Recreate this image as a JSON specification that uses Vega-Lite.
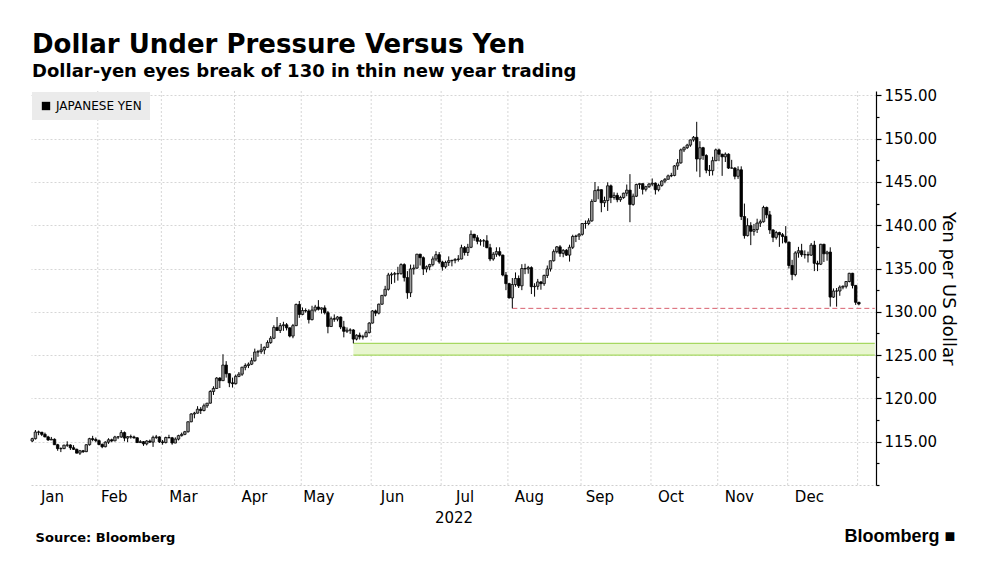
{
"$schema": "https://vega.github.io/schema/vega-lite/v6.json",
"background": "#ffffff",
"padding": {"left": 30, "top": 32, "right": 4, "bottom": 0},
"title": {"text": "Dollar Under Pressure Versus Yen", "subtitle": "Dollar-yen eyes break of 130 in thin new year trading", "anchor": "start", "frame": "group", "font": "DejaVu Sans", "fontSize": 26, "fontWeight": "bold", "color": "#000000", "subtitleFont": "DejaVu Sans", "subtitleFontSize": 18, "subtitleFontWeight": "bold", "subtitleColor": "#000000", "subtitlePadding": 5, "offset": 7, "dx": 1},
"datasets": {
"fx": [
{"d":"2022-01-03","o":115.08,"h":115.46,"l":114.95,"c":115.35},
{"d":"2022-01-04","o":115.35,"h":116.35,"l":115.25,"c":116.12},
{"d":"2022-01-05","o":116.12,"h":116.28,"l":115.75,"c":116.10},
{"d":"2022-01-06","o":116.10,"h":116.10,"l":115.65,"c":115.85},
{"d":"2022-01-07","o":115.85,"h":116.05,"l":115.52,"c":115.55},
{"d":"2022-01-10","o":115.55,"h":115.68,"l":115.10,"c":115.20},
{"d":"2022-01-11","o":115.20,"h":115.55,"l":115.20,"c":115.28},
{"d":"2022-01-12","o":115.28,"h":115.38,"l":114.65,"c":114.65},
{"d":"2022-01-13","o":114.65,"h":114.75,"l":113.95,"c":114.20},
{"d":"2022-01-14","o":114.20,"h":114.35,"l":113.80,"c":114.20},
{"d":"2022-01-17","o":114.20,"h":114.65,"l":114.15,"c":114.60},
{"d":"2022-01-18","o":114.60,"h":115.05,"l":114.40,"c":114.62},
{"d":"2022-01-19","o":114.62,"h":114.70,"l":114.05,"c":114.30},
{"d":"2022-01-20","o":114.30,"h":114.60,"l":114.05,"c":114.12},
{"d":"2022-01-21","o":114.12,"h":114.20,"l":113.65,"c":113.68},
{"d":"2022-01-24","o":113.68,"h":114.05,"l":113.47,"c":113.95},
{"d":"2022-01-25","o":113.95,"h":114.05,"l":113.70,"c":113.85},
{"d":"2022-01-26","o":113.85,"h":114.70,"l":113.80,"c":114.65},
{"d":"2022-01-27","o":114.65,"h":115.45,"l":114.55,"c":115.35},
{"d":"2022-01-28","o":115.35,"h":115.68,"l":115.05,"c":115.25},
{"d":"2022-01-31","o":115.25,"h":115.48,"l":114.95,"c":115.12},
{"d":"2022-02-01","o":115.12,"h":115.25,"l":114.58,"c":114.68},
{"d":"2022-02-02","o":114.68,"h":114.80,"l":114.25,"c":114.42},
{"d":"2022-02-03","o":114.42,"h":115.05,"l":114.35,"c":114.95},
{"d":"2022-02-04","o":114.95,"h":115.40,"l":114.75,"c":115.22},
{"d":"2022-02-07","o":115.22,"h":115.35,"l":114.95,"c":115.10},
{"d":"2022-02-08","o":115.10,"h":115.68,"l":115.05,"c":115.55},
{"d":"2022-02-09","o":115.55,"h":115.65,"l":115.30,"c":115.55},
{"d":"2022-02-10","o":115.55,"h":116.34,"l":115.45,"c":116.05},
{"d":"2022-02-11","o":116.05,"h":116.18,"l":115.05,"c":115.42},
{"d":"2022-02-14","o":115.42,"h":115.65,"l":114.95,"c":115.58},
{"d":"2022-02-15","o":115.58,"h":115.82,"l":115.35,"c":115.55},
{"d":"2022-02-16","o":115.55,"h":115.70,"l":115.35,"c":115.45},
{"d":"2022-02-17","o":115.45,"h":115.52,"l":114.85,"c":114.90},
{"d":"2022-02-18","o":114.90,"h":115.18,"l":114.85,"c":115.00},
{"d":"2022-02-21","o":115.00,"h":115.08,"l":114.52,"c":114.75},
{"d":"2022-02-22","o":114.75,"h":115.18,"l":114.58,"c":115.08},
{"d":"2022-02-23","o":115.08,"h":115.25,"l":114.85,"c":114.95},
{"d":"2022-02-24","o":114.95,"h":115.70,"l":114.40,"c":115.50},
{"d":"2022-02-25","o":115.50,"h":115.78,"l":115.32,"c":115.55},
{"d":"2022-02-28","o":115.55,"h":115.62,"l":114.85,"c":114.98},
{"d":"2022-03-01","o":114.98,"h":115.20,"l":114.65,"c":114.90},
{"d":"2022-03-02","o":114.90,"h":115.58,"l":114.80,"c":115.48},
{"d":"2022-03-03","o":115.48,"h":115.80,"l":115.40,"c":115.45},
{"d":"2022-03-04","o":115.45,"h":115.55,"l":114.65,"c":114.85},
{"d":"2022-03-07","o":114.85,"h":115.50,"l":114.82,"c":115.30},
{"d":"2022-03-08","o":115.30,"h":115.80,"l":115.15,"c":115.70},
{"d":"2022-03-09","o":115.70,"h":116.05,"l":115.60,"c":115.85},
{"d":"2022-03-10","o":115.85,"h":116.25,"l":115.75,"c":116.15},
{"d":"2022-03-11","o":116.15,"h":117.35,"l":116.05,"c":117.30},
{"d":"2022-03-14","o":117.30,"h":118.30,"l":117.25,"c":118.20},
{"d":"2022-03-15","o":118.20,"h":118.45,"l":117.70,"c":118.30},
{"d":"2022-03-16","o":118.30,"h":119.10,"l":118.25,"c":118.75},
{"d":"2022-03-17","o":118.75,"h":119.00,"l":118.20,"c":118.60},
{"d":"2022-03-18","o":118.60,"h":119.40,"l":118.50,"c":119.15},
{"d":"2022-03-21","o":119.15,"h":119.45,"l":118.90,"c":119.45},
{"d":"2022-03-22","o":119.45,"h":120.95,"l":119.40,"c":120.80},
{"d":"2022-03-23","o":120.80,"h":121.40,"l":120.40,"c":121.15},
{"d":"2022-03-24","o":121.15,"h":122.45,"l":121.10,"c":122.35},
{"d":"2022-03-25","o":122.35,"h":122.45,"l":121.20,"c":122.05},
{"d":"2022-03-28","o":122.05,"h":125.10,"l":122.00,"c":123.85},
{"d":"2022-03-29","o":123.85,"h":124.30,"l":122.40,"c":122.85},
{"d":"2022-03-30","o":122.85,"h":122.90,"l":121.30,"c":121.80},
{"d":"2022-03-31","o":121.80,"h":122.40,"l":121.25,"c":121.70},
{"d":"2022-04-01","o":121.70,"h":122.75,"l":121.60,"c":122.55},
{"d":"2022-04-04","o":122.55,"h":123.05,"l":122.45,"c":122.80},
{"d":"2022-04-05","o":122.80,"h":123.65,"l":122.60,"c":123.60},
{"d":"2022-04-06","o":123.60,"h":124.05,"l":123.25,"c":123.80},
{"d":"2022-04-07","o":123.80,"h":124.15,"l":123.50,"c":123.95},
{"d":"2022-04-08","o":123.95,"h":124.70,"l":123.85,"c":124.35},
{"d":"2022-04-11","o":124.35,"h":125.75,"l":124.25,"c":125.35},
{"d":"2022-04-12","o":125.35,"h":125.60,"l":124.80,"c":125.40},
{"d":"2022-04-13","o":125.40,"h":126.30,"l":125.15,"c":125.60},
{"d":"2022-04-14","o":125.60,"h":126.00,"l":125.10,"c":125.90},
{"d":"2022-04-15","o":125.90,"h":126.70,"l":125.85,"c":126.45},
{"d":"2022-04-18","o":126.45,"h":127.20,"l":126.30,"c":126.95},
{"d":"2022-04-19","o":126.95,"h":128.45,"l":126.85,"c":128.20},
{"d":"2022-04-20","o":128.20,"h":129.40,"l":127.80,"c":127.85},
{"d":"2022-04-21","o":127.85,"h":128.70,"l":127.55,"c":128.40},
{"d":"2022-04-22","o":128.40,"h":128.85,"l":127.80,"c":128.50},
{"d":"2022-04-25","o":128.50,"h":128.70,"l":127.85,"c":128.15},
{"d":"2022-04-26","o":128.15,"h":128.20,"l":127.05,"c":127.20},
{"d":"2022-04-27","o":127.20,"h":128.60,"l":126.95,"c":128.40},
{"d":"2022-04-28","o":128.40,"h":130.95,"l":128.35,"c":130.85},
{"d":"2022-04-29","o":130.85,"h":131.25,"l":129.30,"c":129.70},
{"d":"2022-05-02","o":129.70,"h":130.50,"l":129.60,"c":130.15},
{"d":"2022-05-03","o":130.15,"h":130.40,"l":129.90,"c":130.10},
{"d":"2022-05-04","o":130.10,"h":130.30,"l":128.65,"c":129.10},
{"d":"2022-05-05","o":129.10,"h":130.70,"l":129.00,"c":130.20},
{"d":"2022-05-06","o":130.20,"h":130.80,"l":130.00,"c":130.55},
{"d":"2022-05-09","o":130.55,"h":131.35,"l":130.15,"c":130.30},
{"d":"2022-05-10","o":130.30,"h":130.50,"l":129.80,"c":130.45},
{"d":"2022-05-11","o":130.45,"h":130.75,"l":129.70,"c":129.90},
{"d":"2022-05-12","o":129.90,"h":130.10,"l":127.52,"c":128.30},
{"d":"2022-05-13","o":128.30,"h":129.45,"l":128.30,"c":129.20},
{"d":"2022-05-16","o":129.20,"h":129.70,"l":128.85,"c":129.15},
{"d":"2022-05-17","o":129.15,"h":129.50,"l":128.90,"c":129.40},
{"d":"2022-05-18","o":129.40,"h":129.45,"l":128.00,"c":128.25},
{"d":"2022-05-19","o":128.25,"h":128.95,"l":127.05,"c":127.75},
{"d":"2022-05-20","o":127.75,"h":128.20,"l":127.55,"c":127.88},
{"d":"2022-05-23","o":127.88,"h":128.10,"l":127.45,"c":127.90},
{"d":"2022-05-24","o":127.90,"h":128.00,"l":126.36,"c":126.85},
{"d":"2022-05-25","o":126.85,"h":127.40,"l":126.70,"c":127.30},
{"d":"2022-05-26","o":127.30,"h":127.60,"l":126.80,"c":127.10},
{"d":"2022-05-27","o":127.10,"h":127.35,"l":126.80,"c":127.12},
{"d":"2022-05-30","o":127.12,"h":127.85,"l":127.05,"c":127.60},
{"d":"2022-05-31","o":127.60,"h":128.80,"l":127.50,"c":128.70},
{"d":"2022-06-01","o":128.70,"h":130.20,"l":128.65,"c":130.10},
{"d":"2022-06-02","o":130.10,"h":130.25,"l":129.50,"c":129.85},
{"d":"2022-06-03","o":129.85,"h":130.95,"l":129.70,"c":130.88},
{"d":"2022-06-06","o":130.88,"h":131.95,"l":130.80,"c":131.90},
{"d":"2022-06-07","o":131.90,"h":133.00,"l":131.75,"c":132.60},
{"d":"2022-06-08","o":132.60,"h":134.50,"l":132.45,"c":134.25},
{"d":"2022-06-09","o":134.25,"h":134.55,"l":133.20,"c":134.35},
{"d":"2022-06-10","o":134.35,"h":134.60,"l":133.35,"c":134.40},
{"d":"2022-06-13","o":134.40,"h":135.20,"l":133.60,"c":134.40},
{"d":"2022-06-14","o":134.40,"h":135.60,"l":134.30,"c":135.45},
{"d":"2022-06-15","o":135.45,"h":135.60,"l":133.50,"c":133.95},
{"d":"2022-06-16","o":133.95,"h":134.70,"l":131.50,"c":132.20},
{"d":"2022-06-17","o":132.20,"h":135.45,"l":131.70,"c":134.95},
{"d":"2022-06-20","o":134.95,"h":135.45,"l":134.30,"c":135.05},
{"d":"2022-06-21","o":135.05,"h":136.70,"l":134.95,"c":136.65},
{"d":"2022-06-22","o":136.65,"h":136.70,"l":135.35,"c":136.25},
{"d":"2022-06-23","o":136.25,"h":136.40,"l":134.25,"c":134.95},
{"d":"2022-06-24","o":134.95,"h":135.35,"l":134.55,"c":135.20},
{"d":"2022-06-27","o":135.20,"h":135.55,"l":134.80,"c":135.45},
{"d":"2022-06-28","o":135.45,"h":136.40,"l":135.25,"c":136.10},
{"d":"2022-06-29","o":136.10,"h":137.00,"l":135.85,"c":136.60},
{"d":"2022-06-30","o":136.60,"h":136.90,"l":135.55,"c":135.75},
{"d":"2022-07-01","o":135.75,"h":135.90,"l":134.75,"c":135.20},
{"d":"2022-07-04","o":135.20,"h":135.90,"l":135.00,"c":135.70},
{"d":"2022-07-05","o":135.70,"h":136.40,"l":135.30,"c":135.90},
{"d":"2022-07-06","o":135.90,"h":136.00,"l":135.25,"c":135.95},
{"d":"2022-07-07","o":135.95,"h":136.20,"l":135.60,"c":136.05},
{"d":"2022-07-08","o":136.05,"h":136.55,"l":135.80,"c":136.10},
{"d":"2022-07-11","o":136.10,"h":137.75,"l":136.05,"c":137.40},
{"d":"2022-07-12","o":137.40,"h":137.60,"l":136.50,"c":136.85},
{"d":"2022-07-13","o":136.85,"h":137.85,"l":136.45,"c":137.45},
{"d":"2022-07-14","o":137.45,"h":139.40,"l":137.35,"c":138.95},
{"d":"2022-07-15","o":138.95,"h":139.00,"l":138.20,"c":138.55},
{"d":"2022-07-18","o":138.55,"h":138.85,"l":137.80,"c":138.15},
{"d":"2022-07-19","o":138.15,"h":138.40,"l":137.65,"c":138.20},
{"d":"2022-07-20","o":138.20,"h":138.40,"l":137.50,"c":138.20},
{"d":"2022-07-21","o":138.20,"h":138.85,"l":137.35,"c":137.40},
{"d":"2022-07-22","o":137.40,"h":137.85,"l":135.85,"c":136.10},
{"d":"2022-07-25","o":136.10,"h":136.90,"l":135.90,"c":136.65},
{"d":"2022-07-26","o":136.65,"h":137.45,"l":136.35,"c":136.95},
{"d":"2022-07-27","o":136.95,"h":137.45,"l":136.40,"c":136.55},
{"d":"2022-07-28","o":136.55,"h":136.60,"l":134.10,"c":134.25},
{"d":"2022-07-29","o":134.25,"h":134.60,"l":132.50,"c":133.25},
{"d":"2022-08-01","o":133.25,"h":133.35,"l":131.55,"c":131.60},
{"d":"2022-08-02","o":131.60,"h":133.90,"l":130.40,"c":133.15},
{"d":"2022-08-03","o":133.15,"h":134.55,"l":132.90,"c":133.85},
{"d":"2022-08-04","o":133.85,"h":134.20,"l":132.75,"c":133.00},
{"d":"2022-08-05","o":133.00,"h":135.50,"l":132.50,"c":135.00},
{"d":"2022-08-08","o":135.00,"h":135.55,"l":134.35,"c":134.95},
{"d":"2022-08-09","o":134.95,"h":135.30,"l":134.40,"c":135.10},
{"d":"2022-08-10","o":135.10,"h":135.25,"l":132.05,"c":132.90},
{"d":"2022-08-11","o":132.90,"h":133.30,"l":131.75,"c":132.95},
{"d":"2022-08-12","o":132.95,"h":133.80,"l":132.55,"c":133.45},
{"d":"2022-08-15","o":133.45,"h":133.55,"l":132.55,"c":133.25},
{"d":"2022-08-16","o":133.25,"h":134.30,"l":133.00,"c":134.20},
{"d":"2022-08-17","o":134.20,"h":135.35,"l":133.90,"c":134.95},
{"d":"2022-08-18","o":134.95,"h":135.90,"l":134.65,"c":135.90},
{"d":"2022-08-19","o":135.90,"h":137.20,"l":135.80,"c":136.95},
{"d":"2022-08-22","o":136.95,"h":137.60,"l":136.75,"c":137.50},
{"d":"2022-08-23","o":137.50,"h":137.70,"l":136.35,"c":136.75},
{"d":"2022-08-24","o":136.75,"h":137.25,"l":136.30,"c":137.10},
{"d":"2022-08-25","o":137.10,"h":137.25,"l":136.45,"c":136.55},
{"d":"2022-08-26","o":136.55,"h":137.75,"l":135.80,"c":137.45},
{"d":"2022-08-29","o":137.45,"h":138.90,"l":137.25,"c":138.70},
{"d":"2022-08-30","o":138.70,"h":138.90,"l":138.05,"c":138.75},
{"d":"2022-08-31","o":138.75,"h":139.10,"l":138.30,"c":138.95},
{"d":"2022-09-01","o":138.95,"h":140.25,"l":138.80,"c":140.20},
{"d":"2022-09-02","o":140.20,"h":140.55,"l":139.60,"c":140.20},
{"d":"2022-09-05","o":140.20,"h":140.80,"l":140.00,"c":140.50},
{"d":"2022-09-06","o":140.50,"h":143.00,"l":140.40,"c":142.75},
{"d":"2022-09-07","o":142.75,"h":144.99,"l":142.70,"c":144.00},
{"d":"2022-09-08","o":144.00,"h":144.50,"l":143.00,"c":144.10},
{"d":"2022-09-09","o":144.10,"h":144.15,"l":141.50,"c":142.60},
{"d":"2022-09-12","o":142.60,"h":143.30,"l":142.10,"c":142.85},
{"d":"2022-09-13","o":142.85,"h":144.95,"l":141.65,"c":144.55},
{"d":"2022-09-14","o":144.55,"h":144.70,"l":142.55,"c":143.20},
{"d":"2022-09-15","o":143.20,"h":143.80,"l":142.95,"c":143.45},
{"d":"2022-09-16","o":143.45,"h":143.75,"l":142.65,"c":142.95},
{"d":"2022-09-19","o":142.95,"h":143.40,"l":142.70,"c":143.20},
{"d":"2022-09-20","o":143.20,"h":143.75,"l":143.05,"c":143.70},
{"d":"2022-09-21","o":143.70,"h":144.70,"l":143.35,"c":144.05},
{"d":"2022-09-22","o":144.05,"h":145.90,"l":140.35,"c":142.40},
{"d":"2022-09-23","o":142.40,"h":143.65,"l":142.25,"c":143.35},
{"d":"2022-09-26","o":143.35,"h":144.80,"l":143.25,"c":144.70},
{"d":"2022-09-27","o":144.70,"h":144.85,"l":144.20,"c":144.80},
{"d":"2022-09-28","o":144.80,"h":144.80,"l":143.55,"c":144.15},
{"d":"2022-09-29","o":144.15,"h":144.55,"l":143.90,"c":144.45},
{"d":"2022-09-30","o":144.45,"h":144.90,"l":144.30,"c":144.75},
{"d":"2022-10-03","o":144.75,"h":145.40,"l":144.50,"c":144.85},
{"d":"2022-10-04","o":144.85,"h":144.95,"l":143.55,"c":144.10},
{"d":"2022-10-05","o":144.10,"h":144.80,"l":143.90,"c":144.60},
{"d":"2022-10-06","o":144.60,"h":145.20,"l":144.45,"c":145.10},
{"d":"2022-10-07","o":145.10,"h":145.45,"l":144.85,"c":145.30},
{"d":"2022-10-10","o":145.30,"h":145.85,"l":145.30,"c":145.70},
{"d":"2022-10-11","o":145.70,"h":146.05,"l":145.55,"c":145.75},
{"d":"2022-10-12","o":145.75,"h":146.95,"l":145.65,"c":146.85},
{"d":"2022-10-13","o":146.85,"h":147.65,"l":146.40,"c":147.20},
{"d":"2022-10-14","o":147.20,"h":148.85,"l":147.10,"c":148.70},
{"d":"2022-10-17","o":148.70,"h":149.10,"l":148.45,"c":148.95},
{"d":"2022-10-18","o":148.95,"h":149.40,"l":148.80,"c":149.25},
{"d":"2022-10-19","o":149.25,"h":149.90,"l":149.05,"c":149.85},
{"d":"2022-10-20","o":149.85,"h":150.30,"l":149.65,"c":150.15},
{"d":"2022-10-21","o":150.15,"h":151.94,"l":146.20,"c":147.65},
{"d":"2022-10-24","o":147.65,"h":149.70,"l":145.55,"c":148.95},
{"d":"2022-10-25","o":148.95,"h":149.05,"l":147.55,"c":148.05},
{"d":"2022-10-26","o":148.05,"h":148.20,"l":146.00,"c":146.35},
{"d":"2022-10-27","o":146.35,"h":146.95,"l":145.70,"c":146.30},
{"d":"2022-10-28","o":146.30,"h":147.90,"l":145.75,"c":147.45},
{"d":"2022-10-31","o":147.45,"h":148.85,"l":147.40,"c":148.70},
{"d":"2022-11-01","o":148.70,"h":148.85,"l":147.40,"c":148.20},
{"d":"2022-11-02","o":148.20,"h":148.25,"l":145.70,"c":147.90},
{"d":"2022-11-03","o":147.90,"h":148.40,"l":147.30,"c":148.20},
{"d":"2022-11-04","o":148.20,"h":148.30,"l":146.50,"c":146.60},
{"d":"2022-11-07","o":146.60,"h":147.55,"l":146.55,"c":146.60},
{"d":"2022-11-08","o":146.60,"h":146.70,"l":145.30,"c":145.65},
{"d":"2022-11-09","o":145.65,"h":146.80,"l":145.35,"c":146.40},
{"d":"2022-11-10","o":146.40,"h":146.80,"l":140.60,"c":141.00},
{"d":"2022-11-11","o":141.00,"h":142.50,"l":138.45,"c":138.80},
{"d":"2022-11-14","o":138.80,"h":140.80,"l":138.70,"c":139.95},
{"d":"2022-11-15","o":139.95,"h":140.35,"l":137.70,"c":139.30},
{"d":"2022-11-16","o":139.30,"h":140.15,"l":138.80,"c":139.50},
{"d":"2022-11-17","o":139.50,"h":140.75,"l":139.10,"c":140.25},
{"d":"2022-11-18","o":140.25,"h":140.65,"l":139.80,"c":140.40},
{"d":"2022-11-21","o":140.40,"h":142.25,"l":140.30,"c":142.05},
{"d":"2022-11-22","o":142.05,"h":142.15,"l":140.80,"c":141.20},
{"d":"2022-11-23","o":141.20,"h":141.65,"l":139.00,"c":139.45},
{"d":"2022-11-24","o":139.45,"h":139.55,"l":138.05,"c":138.60},
{"d":"2022-11-25","o":138.60,"h":139.35,"l":138.35,"c":139.15},
{"d":"2022-11-28","o":139.15,"h":139.25,"l":137.50,"c":138.90},
{"d":"2022-11-29","o":138.90,"h":139.10,"l":137.90,"c":138.70},
{"d":"2022-11-30","o":138.70,"h":139.90,"l":137.90,"c":138.05},
{"d":"2022-12-01","o":138.05,"h":138.10,"l":135.00,"c":135.35},
{"d":"2022-12-02","o":135.35,"h":136.00,"l":133.65,"c":134.30},
{"d":"2022-12-05","o":134.30,"h":137.00,"l":134.10,"c":136.80},
{"d":"2022-12-06","o":136.80,"h":137.50,"l":136.25,"c":137.05},
{"d":"2022-12-07","o":137.05,"h":137.85,"l":136.35,"c":136.60},
{"d":"2022-12-08","o":136.60,"h":137.10,"l":136.15,"c":136.60},
{"d":"2022-12-09","o":136.60,"h":136.95,"l":135.70,"c":136.55},
{"d":"2022-12-12","o":136.55,"h":137.95,"l":136.45,"c":137.70},
{"d":"2022-12-13","o":137.70,"h":138.20,"l":134.70,"c":135.60},
{"d":"2022-12-14","o":135.60,"h":135.90,"l":134.70,"c":135.50},
{"d":"2022-12-15","o":135.50,"h":137.85,"l":135.40,"c":137.80},
{"d":"2022-12-16","o":137.80,"h":137.85,"l":135.75,"c":136.70},
{"d":"2022-12-19","o":136.70,"h":137.05,"l":135.90,"c":136.90},
{"d":"2022-12-20","o":136.90,"h":137.45,"l":130.60,"c":131.70},
{"d":"2022-12-21","o":131.70,"h":132.70,"l":131.60,"c":132.40},
{"d":"2022-12-22","o":132.40,"h":132.75,"l":130.60,"c":132.40},
{"d":"2022-12-23","o":132.40,"h":133.05,"l":131.85,"c":132.85},
{"d":"2022-12-26","o":132.85,"h":133.05,"l":132.60,"c":132.95},
{"d":"2022-12-27","o":132.95,"h":133.55,"l":132.70,"c":133.50},
{"d":"2022-12-28","o":133.50,"h":134.50,"l":133.40,"c":134.45},
{"d":"2022-12-29","o":134.45,"h":134.50,"l":132.70,"c":133.05},
{"d":"2022-12-30","o":133.05,"h":133.10,"l":130.80,"c":131.10},
{"d":"2023-01-02","o":131.10,"h":131.15,"l":130.75,"c":130.90}
],
"months": [{"d":"2022-02-01"},{"d":"2022-03-01"},{"d":"2022-04-01"},{"d":"2022-05-02"},{"d":"2022-06-01"},{"d":"2022-07-01"},{"d":"2022-08-01"},{"d":"2022-09-01"},{"d":"2022-10-03"},{"d":"2022-11-01"},{"d":"2022-12-01"},{"d":"2023-01-02"}],
"zone": [{"from":"2022-05-24","to":"2023-01-09","lo":125.0,"hi":126.36}],
"zoneEdges": [{"from":"2022-05-24","to":"2023-01-09","v":125.0},{"from":"2022-05-24","to":"2023-01-09","v":126.36}],
"support": [{"from":"2022-08-02","to":"2023-01-09","v":130.4}]
},
"spacing": 0,
"vconcat": [{
  "title": {"text": "Bloomberg ■", "orient": "bottom", "anchor": "end", "font": "Liberation Sans", "fontSize": 18, "fontWeight": "bold", "color": "#000000", "offset": -17, "dx": -1},
  "vconcat": [{
    "title": {"text": "Source: Bloomberg", "orient": "bottom", "anchor": "start", "font": "DejaVu Sans", "fontSize": 13, "fontWeight": "bold", "color": "#000000", "offset": 7, "dx": 5},
    "width": 845,
    "height": 394,
    "resolve": {"axis": {"y": "independent"}},
    "layer": [
      {"data": {"name": "months"}, "mark": {"type": "rule", "color": "#d6d6d6", "strokeDash": [2, 2], "strokeWidth": 1},
       "encoding": {"x": {"field": "d", "type": "ordinal", "bandPosition": 0, "title": "2022"}}},
      {"data": {"name": "zone"}, "mark": {"type": "rect", "fill": "#e8f6cf"},
       "encoding": {"x": {"field": "from", "type": "ordinal", "title": "2022"}, "x2": {"field": "to"}, "y": {"field": "lo", "type": "quantitative", "axis": null}, "y2": {"field": "hi"}}},
      {"data": {"name": "zoneEdges"}, "mark": {"type": "rule", "color": "#a6d861", "strokeWidth": 1.2},
       "encoding": {"x": {"field": "from", "type": "ordinal", "title": "2022"}, "x2": {"field": "to"}, "y": {"field": "v", "type": "quantitative", "axis": null}}},
      {"data": {"name": "support"}, "mark": {"type": "rule", "color": "#d9606e", "strokeDash": [5, 3], "strokeWidth": 1},
       "encoding": {"x": {"field": "from", "type": "ordinal", "title": "2022"}, "x2": {"field": "to"}, "y": {"field": "v", "type": "quantitative", "axis": null}}},
      {"data": {"name": "fx"}, "mark": {"type": "rule", "color": "#000000", "strokeWidth": 1},
       "encoding": {"x": {"field": "d", "type": "ordinal", "title": "2022"},
                    "y": {"field": "l", "type": "quantitative",
                          "axis": {"orient": "right", "values": [110, 112.5, 117.5, 122.5, 127.5, 132.5, 137.5, 142.5, 147.5, 152.5], "labels": false, "grid": false, "domain": false, "title": null, "tickColor": "#000000", "tickSize": 3, "tickWidth": 1.2}},
                    "y2": {"field": "h"}}},
      {"data": {"name": "fx"}, "mark": {"type": "bar", "strokeWidth": 0.8},
       "encoding": {
         "x": {"field": "d", "type": "ordinal",
               "scale": {"type": "band", "paddingInner": 0.22, "paddingOuter": 0, "domain": {"unionWith": ["2023-01-03", "2023-01-04", "2023-01-05", "2023-01-06", "2023-01-09"]}},
               "axis": {"values": ["2022-01-17","2022-02-14","2022-03-16","2022-04-15","2022-05-16","2022-06-15","2022-07-15","2022-08-16","2022-09-15","2022-10-17","2022-11-16","2022-12-16"],
                        "labelExpr": "['Jan','Feb','Mar','Apr','May','Jun','Jul','Aug','Sep','Oct','Nov','Dec'][toNumber(substring(datum.value, 5, 7)) - 1]",
                        "labelAngle": 0, "ticks": false, "grid": false, "domain": true, "domainColor": "#cfcfcf", "domainDash": [2, 2],
                        "labelFont": "DejaVu Sans", "labelFontSize": 15, "labelColor": "#000000", "labelPadding": 11,
                        "titleFont": "DejaVu Sans", "titleFontSize": 15, "titleFontWeight": "normal", "titleColor": "#000000", "titlePadding": 6},
               "title": "2022"},
         "y": {"field": "o", "type": "quantitative", "title": "Yen per US dollar",
               "scale": {"domain": [110, 155.5], "nice": false, "zero": false},
               "axis": {"orient": "right", "values": [115, 120, 125, 130, 135, 140, 145, 150, 155], "format": ".2f",
                        "grid": true, "gridColor": "#d6d6d6", "gridDash": [2, 2],
                        "domainColor": "#000000", "domainWidth": 1.2, "tickColor": "#000000", "tickSize": 5, "tickWidth": 1.2,
                        "labelFont": "DejaVu Sans", "labelFontSize": 15, "labelColor": "#000000", "labelPadding": 3,
                        "titleFont": "DejaVu Sans", "titleFontSize": 18, "titleFontWeight": "normal", "titleColor": "#000000", "titlePadding": 2}},
         "y2": {"field": "c"},
         "fill": {"condition": {"test": "datum.c >= datum.o", "value": "#9c9c9c"}, "value": "#000000"},
         "stroke": {"datum": "JAPANESE YEN", "type": "nominal", "scale": {"range": ["#000000"]},
                    "legend": {"title": null, "orient": "top-left", "offset": 1, "fillColor": "#ebebeb", "padding": 8,
                               "labelFont": "DejaVu Sans", "labelFontSize": 12, "labelColor": "#000000",
                               "symbolType": "square", "symbolSize": 70, "symbolFillColor": "#000000", "symbolStrokeColor": "#000000", "symbolStrokeWidth": 0, "labelOffset": 4}}
       }}
    ]
  }]
}],
"config": {"view": {"stroke": null}}
}
